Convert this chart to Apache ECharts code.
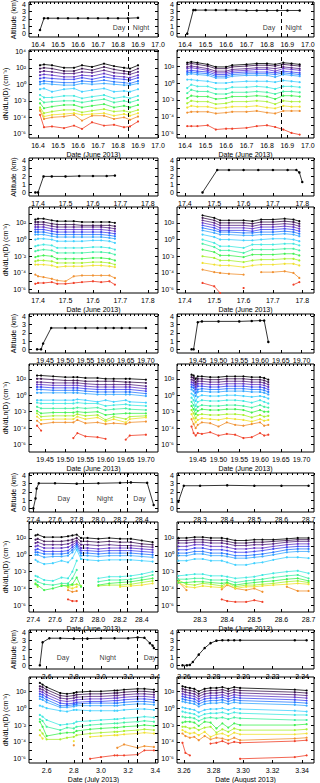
<!DOCTYPE html>
<html>
<head>
<meta charset="utf-8">
<script src="https://cdn.jsdelivr.net/npm/echarts@6/dist/echarts.min.js"></script>
<style>
html, body { margin: 0; padding: 0; background: #fff; }
#main { width: 320px; height: 783px; }
</style>
</head>
<body>
<div id="main"></div>
<script>
/*
 * size distributions + altitude, 5 flights x 2
 * values are log10(dN/dLnD)
 */
var colors = ['#000000', '#3c1850', '#5a2888', '#6438c8', '#4048f0', '#2878ff', '#38a8ff', '#40d0ff',
	'#40e8e0', '#40f0a0', '#40f050', '#a8f030', '#f0e030', '#f09030', '#f04028', '#f04028'];

// ---- row 1 : 16-17 June ----
var xt1 = [16.4, 16.5, 16.6, 16.7, 16.8, 16.9, 17.0];
var altT1L = [16.41, 16.43, 16.45, 16.50, 16.55, 16.60, 16.65, 16.70, 16.75, 16.80, 16.85, 16.90];
var alt1L = [0.5, 2.1, 2.1, 2.1, 2.1, 2.1, 2.1, 2.1, 2.1, 2.1, 2.1, 2.15];
var t1L = [16.41, 16.43, 16.47, 16.53, 16.58, 16.62, 16.67, 16.73, 16.78, 16.83, 16.86, 16.90];
var dn1L = [
	[2.3, 2.4, 2.3, 2.0, 2.0, 2.3, 2.1, 2.5, 2.2, 2.0, 1.9, 2.3],
	[1.9, 2.0, 1.9, 1.6, 1.6, 1.9, 1.7, 2.1, 1.8, 1.6, 1.5, 1.9],
	[1.5, 1.6, 1.5, 1.3, 1.3, 1.5, 1.4, 1.7, 1.4, 1.3, 1.2, 1.5],
	[1.1, 1.2, 1.1, 0.9, 0.9, 1.1, 1.0, 1.3, 1.0, 0.9, 0.8, 1.1],
	[0.7, 0.8, 0.7, 0.6, 0.6, 0.8, 0.6, 0.9, 0.7, 0.6, 0.5, 0.8],
	[0.3, 0.4, 0.3, 0.2, 0.2, 0.4, 0.3, 0.5, 0.3, 0.2, 0.1, 0.4],
	[0.0, 0.1, 0.0, -0.1, -0.1, 0.1, 0.0, 0.1, 0.0, -0.1, -0.1, 0.1],
	[-0.6, -0.5, -0.9, -0.6, -0.5, -0.9, -0.7, -0.5, -0.9, -0.8, -0.9, -0.6],
	[-1.3, -1.6, -1.6, -1.4, -1.4, -1.7, -1.5, -1.3, -1.7, -1.5, -1.7, -1.4],
	[-1.8, -2.2, -2.1, -2.0, -2.0, -2.2, -2.0, -1.8, -2.2, -2.0, -2.2, -1.9],
	[-2.3, -2.9, -2.7, -2.5, -2.5, -2.8, -2.6, -2.4, -2.8, -2.6, -2.8, -2.5],
	[-2.8, -3.5, -3.3, -3.1, -3.1, -3.4, -3.2, -3.0, -3.3, -3.2, -3.4, -3.1],
	[-3.0, -3.9, -3.7, -3.6, -3.5, -3.7, -3.6, -3.5, -3.8, -3.6, -3.8, -3.5],
	[-3.2, -4.2, -4.0, -3.9, -3.7, -4.4, -3.8, -3.8, -4.2, -4.0, -4.3, -3.9],
	[-3.7, -5.2, -5.1, -5.3, -5.0, -5.4, -4.6, -5.0, -4.9, -5.2, -5.1, -4.5]
];
var txt1L = [['Day', 16.805, 0.9], ['Night', 16.915, 0.9]];

var altT1R = [16.41, 16.44, 16.45, 16.50, 16.55, 16.60, 16.65, 16.70, 16.75, 16.80, 16.85, 16.90, 16.96];
var alt1R = [0, 3.2, 3.2, 3.2, 3.2, 3.2, 3.2, 3.15, 3.15, 3.15, 3.15, 3.15, 3.15];
var t1R = [16.41, 16.43, 16.46, 16.51, 16.55, 16.60, 16.63, 16.70, 16.75, 16.80, 16.84, 16.88, 16.92, 16.96];
var dn1R = [
	[2.4, 2.5, 2.4, 2.2, 1.9, 1.9, 2.1, 2.2, 2.3, 2.3, 2.2, 2.4, 2.3, 2.2],
	[2.2, 2.3, 2.2, 2.0, 1.7, 1.7, 1.9, 2.0, 2.1, 2.1, 2.0, 2.2, 2.1, 2.0],
	[1.9, 2.0, 1.9, 1.7, 1.4, 1.4, 1.6, 1.7, 1.8, 1.8, 1.7, 1.9, 1.8, 1.7],
	[1.7, 1.8, 1.7, 1.5, 1.2, 1.2, 1.4, 1.5, 1.6, 1.6, 1.4, 1.7, 1.6, 1.5],
	[1.4, 1.5, 1.4, 1.3, 1.0, 1.0, 1.2, 1.3, 1.3, 1.3, 1.2, 1.4, 1.3, 1.2],
	[1.2, 1.3, 1.2, 1.1, 0.8, 0.8, 1.0, 1.1, 1.1, 1.1, 1.0, 1.2, 1.1, 1.0],
	[1.0, 1.1, 1.0, 0.9, 0.6, 0.6, 0.8, 0.9, 0.9, 0.9, 0.7, 1.0, 0.9, 0.8],
	[0.4, 0.4, 0.3, 0.2, 0.0, 0.0, 0.1, 0.2, 0.2, 0.2, 0.1, 0.3, 0.2, 0.1],
	[-0.6, -0.2, -0.4, -0.4, -0.7, -0.7, -0.5, -0.5, -0.4, -0.5, -0.7, -0.4, -0.4, -0.5],
	[-1.2, -0.8, -1.0, -1.0, -1.3, -1.3, -1.1, -1.1, -1.0, -1.1, -1.3, -1.0, -1.0, -1.1],
	[-1.8, -1.5, -1.6, -1.6, -1.9, -1.8, -1.6, -1.6, -1.5, -1.6, -1.9, -1.5, -1.5, -1.6],
	[-2.4, -2.1, -2.2, -2.2, -2.5, -2.4, -2.2, -2.2, -2.1, -2.2, -2.5, -2.1, -2.2, -2.2],
	[-2.9, -2.7, -2.8, -2.8, -3.0, -2.9, -2.8, -2.8, -2.7, -2.9, -3.0, -2.7, -2.8, -2.8],
	[-3.5, -3.4, -3.4, -3.4, -3.6, -3.5, -3.4, -3.4, -3.3, -3.5, -3.6, -3.3, -3.3, -3.3],
	[-5.1, -5.1, -5.1, -5.0, -5.5, -5.4, -5.4, -5.3, -5.1, -5.0, -5.2, -5.5, -5.9, -6.1]
];
var txt1R = [['Day', 16.81, 0.9], ['Night', 16.93, 0.9]];

// ---- row 2 : 17 June ----
var xt2 = [17.4, 17.5, 17.6, 17.7, 17.8];
var altT2L = [17.39, 17.40, 17.42, 17.45, 17.50, 17.55, 17.60, 17.65, 17.68];
var alt2L = [0, 0, 2.0, 2.0, 2.0, 2.05, 2.05, 2.05, 2.1];
var t2L = [17.39, 17.40, 17.42, 17.45, 17.47, 17.50, 17.53, 17.56, 17.60, 17.63, 17.66, 17.68];
var dn2L = [
	[2.4, 2.5, 2.5, 2.3, 2.2, 2.2, 2.2, 2.1, 2.1, 2.1, 2.1, 2.0],
	[2.1, 2.1, 2.1, 1.9, 1.8, 1.8, 1.8, 1.7, 1.7, 1.7, 1.7, 1.6],
	[1.8, 1.8, 1.8, 1.6, 1.5, 1.5, 1.5, 1.5, 1.5, 1.5, 1.4, 1.3],
	[1.5, 1.5, 1.5, 1.3, 1.2, 1.2, 1.2, 1.2, 1.2, 1.2, 1.1, 1.0],
	[1.2, 1.2, 1.2, 1.0, 0.9, 0.9, 0.9, 0.9, 0.9, 0.9, 0.8, 0.7],
	[0.9, 0.9, 0.9, 0.7, 0.6, 0.6, 0.6, 0.6, 0.6, 0.6, 0.5, 0.4],
	[0.6, 0.6, 0.6, 0.4, 0.3, 0.3, 0.3, 0.3, 0.3, 0.3, 0.2, 0.1],
	[0.0, 0.1, 0.1, 0.0, -0.2, -0.2, -0.2, -0.2, -0.1, -0.1, -0.2, -0.4],
	[-0.8, -0.7, -0.6, -0.7, -1.0, -1.0, -1.0, -1.0, -0.9, -0.9, -1.0, -1.2],
	[-1.4, -1.3, -1.2, -1.3, -1.6, -1.6, -1.6, -1.6, -1.5, -1.5, -1.6, -1.8],
	[-2.1, -2.0, -1.9, -2.0, -2.3, -2.3, -2.3, -2.3, -2.2, -2.2, -2.3, -2.5],
	[-2.6, -2.5, -2.5, -2.6, -2.8, -2.8, -2.8, -2.8, -2.7, -2.7, -2.8, -3.0],
	[-3.0, -3.0, -3.0, -3.1, -3.3, -3.2, -3.2, -3.2, -3.1, -3.1, -3.2, -3.3],
	[-4.2, -4.4, -4.5, -4.7, -4.9, -5.0, -4.4, -4.3, -4.3, -4.3, -4.3, -4.6],
	[-5.3, -5.2, -5.2, -5.1, -5.3, -5.3, -5.2, -5.1, -5.0, -5.1, -5.0, -5.4]
];

var altT2R = [17.46, 17.51, 17.55, 17.60, 17.65, 17.70, 17.75, 17.78, 17.79, 17.80];
var alt2R = [0, 2.8, 2.8, 2.8, 2.8, 2.8, 2.8, 2.8, 2.5, 1.3];
var t2R = [17.46, 17.50, 17.52, 17.55, 17.60, 17.63, 17.66, 17.70, 17.74, 17.77, 17.79];
var dn2R = [
	[2.9, 2.6, 2.3, 2.3, 2.3, 2.2, 2.4, 2.4, 2.5, 2.4, 2.2],
	[2.6, 2.3, 2.0, 2.0, 2.0, 1.9, 2.1, 2.1, 2.2, 2.1, 1.9],
	[2.3, 2.0, 1.7, 1.7, 1.7, 1.6, 1.8, 1.8, 1.9, 1.8, 1.6],
	[2.0, 1.7, 1.4, 1.4, 1.4, 1.3, 1.5, 1.5, 1.6, 1.5, 1.3],
	[1.7, 1.4, 1.1, 1.1, 1.1, 1.0, 1.2, 1.2, 1.3, 1.2, 1.0],
	[1.4, 1.1, 0.9, 0.9, 0.8, 0.8, 0.9, 0.9, 1.0, 0.9, 0.7],
	[1.1, 0.8, 0.6, 0.6, 0.5, 0.5, 0.6, 0.6, 0.7, 0.6, 0.4],
	[0.6, 0.3, 0.0, 0.0, -0.1, -0.1, 0.0, 0.1, 0.1, 0.0, -0.2],
	[0.0, -0.4, -0.8, -0.8, -1.0, -0.6, -0.6, -0.6, -0.5, -0.5, -0.7],
	[-0.5, -0.9, -1.3, -1.3, -1.6, -1.2, -1.2, -1.2, -1.1, -1.1, -1.3],
	[-1.2, -1.5, -1.9, -1.9, -2.1, -1.8, -1.8, -1.8, -1.7, -1.7, -1.9],
	[-2.0, -2.2, -2.5, -2.5, -2.7, -2.5, -2.4, -2.4, -2.3, -2.3, -2.5],
	[-2.8, -3.0, -3.1, -3.1, -3.3, -3.1, -3.0, -3.0, -2.9, -2.9, -3.1],
	[-3.6, -3.9, -4.0, -4.1, -4.2, null, -3.9, -3.9, -3.8, -4.0, -4.6],
	[-5.2, -5.6, -6.4, null, -5.8, null, null, null, null, -5.4, -5.1]
];

// ---- row 3 : 19 June ----
var xt3 = [19.45, 19.50, 19.55, 19.60, 19.65, 19.70];
var altT3L = [19.43, 19.44, 19.445, 19.465, 19.50, 19.525, 19.55, 19.58, 19.60, 19.62, 19.64, 19.66, 19.70];
var alt3L = [0, 0, 0.7, 2.6, 2.6, 2.6, 2.6, 2.6, 2.6, 2.6, 2.6, 2.6, 2.6];
var t3L = [19.43, 19.44, 19.47, 19.50, 19.52, 19.53, 19.55, 19.58, 19.60, 19.62, 19.65, 19.66, 19.70];
var dn3L = [
	[2.4, 2.4, 2.3, 2.2, 2.2, 2.2, 2.1, 2.1, 2.0, 2.0, 2.0, 2.0, 1.9],
	[2.0, 2.0, 1.9, 1.8, 1.8, 1.8, 1.7, 1.7, 1.7, 1.7, 1.6, 1.6, 1.5],
	[1.6, 1.6, 1.5, 1.5, 1.5, 1.5, 1.4, 1.3, 1.3, 1.3, 1.3, 1.3, 1.1],
	[1.3, 1.3, 1.2, 1.2, 1.2, 1.2, 1.1, 1.0, 1.0, 1.0, 1.0, 1.0, 0.8],
	[1.0, 1.0, 0.9, 0.9, 0.9, 0.9, 0.8, 0.7, 0.7, 0.7, 0.7, 0.7, 0.5],
	[0.7, 0.7, 0.6, 0.6, 0.6, 0.6, 0.5, 0.4, 0.4, 0.4, 0.4, 0.4, 0.2],
	[0.3, 0.3, 0.3, 0.3, 0.3, 0.3, 0.2, 0.1, 0.1, 0.1, 0.1, 0.1, -0.1],
	[-0.6, -0.6, -0.6, -0.6, -0.6, -0.5, -0.6, -0.8, -0.6, -0.8, -0.6, -0.8, -0.9],
	[-0.9, -1.0, -1.0, -1.0, -1.0, -0.9, -1.0, -1.0, -1.3, -1.2, -1.1, -1.2, -1.3],
	[-1.4, -1.6, -1.6, -1.6, -1.6, -1.5, -1.6, -1.5, -1.8, -1.7, -1.6, -1.7, -1.8],
	[-1.9, -2.2, -2.1, -2.1, -2.1, -2.0, -2.1, -2.0, -2.4, -2.3, -2.2, -2.2, -2.2],
	[-2.2, -2.6, -2.5, -2.5, -2.5, -2.3, -2.5, -2.4, -3.0, -2.6, -2.9, -2.6, -2.5],
	[-2.6, -3.0, -2.9, -2.9, -2.9, -2.6, -2.9, -2.7, -3.2, -2.9, -3.3, -2.9, -2.7],
	[-3.1, -3.5, -3.3, -3.3, -3.3, -3.0, -3.4, -3.3, -3.5, -3.4, -3.5, -3.3, -3.2],
	[-3.7, -4.3, null, null, -5.2, -4.6, -5.0, -5.1, -5.3, null, -5.4, -4.9, -4.8]
];

var altT3R = [19.435, 19.44, 19.45, 19.46, 19.50, 19.55, 19.58, 19.60, 19.61, 19.62];
var alt3R = [0, 0, 3.3, 3.4, 3.4, 3.4, 3.45, 3.5, 3.5, 0.9];
var t3R = [19.435, 19.44, 19.445, 19.45, 19.46, 19.48, 19.50, 19.52, 19.54, 19.56, 19.58, 19.60, 19.61, 19.62];
var dn3R = [
	[2.5, 2.4, 2.0, 2.3, 2.3, 2.2, 2.2, 2.3, 2.3, 2.3, 2.2, 2.2, 2.1, 1.9],
	[2.2, 2.1, 1.6, 2.0, 2.0, 1.9, 1.9, 2.0, 2.0, 2.0, 1.9, 1.9, 1.8, 1.6],
	[1.9, 1.8, 1.3, 1.7, 1.7, 1.6, 1.6, 1.7, 1.7, 1.7, 1.6, 1.6, 1.5, 1.3],
	[1.6, 1.5, 1.0, 1.4, 1.4, 1.3, 1.3, 1.4, 1.4, 1.4, 1.3, 1.3, 1.2, 1.0],
	[1.3, 1.2, 0.7, 1.1, 1.1, 1.0, 1.0, 1.1, 1.1, 1.1, 1.0, 1.0, 0.9, 0.7],
	[1.0, 0.9, 0.3, 0.7, 0.8, 0.7, 0.7, 0.8, 0.8, 0.8, 0.7, 0.7, 0.6, 0.4],
	[0.7, 0.5, -0.1, 0.4, 0.5, 0.4, 0.4, 0.5, 0.5, 0.5, 0.4, 0.4, 0.3, 0.1],
	[0.2, 0.0, -0.7, -0.2, 0.0, -0.1, -0.1, 0.0, 0.0, -0.1, -0.2, -0.1, -0.2, -0.4],
	[-0.3, -0.6, -1.3, -0.8, -0.6, -0.7, -0.7, -0.6, -0.6, -0.7, -0.9, -0.6, -0.8, -1.0],
	[-0.8, -1.2, -1.8, -1.4, -1.2, -1.3, -1.3, -1.2, -1.2, -1.3, -1.5, -1.2, -1.4, -1.5],
	[-1.3, -1.7, -2.3, -1.9, -1.7, -1.8, -1.8, -1.7, -1.7, -1.8, -2.1, -1.8, -2.0, -2.0],
	[-1.8, -2.2, -2.8, -2.4, -2.3, -2.4, -2.4, -2.3, -2.3, -2.4, -2.7, -2.4, -2.6, -2.5],
	[-2.3, -2.8, -3.3, -3.0, -2.8, -2.9, -3.0, -2.8, -2.9, -3.0, -3.2, -2.9, -3.1, -3.0],
	[-2.9, -3.5, -4.0, -3.6, -3.3, -3.4, -3.8, -3.3, -3.6, -3.7, -3.5, -3.3, -3.7, -3.6],
	[-3.8, -4.6, -4.9, -4.6, -4.7, -4.5, -4.9, -4.7, -4.8, -5.2, -5.1, -4.6, -4.9, -4.8]
];

// ---- row 4 : 27-28 June ----
var xt4L = [27.4, 27.6, 27.8, 28.0, 28.2, 28.4];
var altT4L = [27.40, 27.42, 27.43, 27.45, 27.60, 27.80, 28.00, 28.20, 28.30, 28.45, 28.51];
var alt4L = [0, 1.2, 2.4, 3.05, 3.05, 3.0, 3.05, 3.1, 3.15, 3.1, 0.4];
var t4L = [27.42, 27.44, 27.50, 27.58, 27.66, 27.72, 27.76, 27.80, 27.84, 27.90, 28.00, 28.10, 28.20, 28.30, 28.40, 28.50];
var dn4L = [
	[2.3, 2.4, 2.1, 2.1, 2.1, 2.2, 2.3, 2.4, 2.0, 2.0, 1.9, 2.0, 1.9, 1.9, 1.7, 1.5],
	[1.8, 1.9, 1.6, 1.6, 1.6, 1.7, 1.8, 2.0, 1.6, 1.6, 1.5, 1.6, 1.5, 1.5, 1.3, 1.2],
	[1.4, 1.5, 1.2, 1.2, 1.2, 1.3, 1.5, 1.7, 1.2, 1.2, 1.1, 1.2, 1.1, 1.1, 1.0, 0.9],
	[1.0, 1.1, 0.8, 0.8, 0.8, 0.9, 1.2, 1.5, 0.8, 0.8, 0.7, 0.8, 0.8, 0.8, 0.7, 0.6],
	[0.6, 0.7, 0.4, 0.4, 0.4, 0.5, 0.9, 1.3, 0.5, 0.5, 0.4, 0.5, 0.5, 0.5, 0.4, 0.3],
	[0.3, 0.3, 0.1, 0.1, 0.1, 0.2, 0.6, 1.1, 0.2, 0.2, 0.1, 0.2, 0.2, 0.2, 0.1, 0.0],
	[0.0, 0.0, -0.3, -0.2, -0.2, -0.1, 0.3, 0.9, -0.1, -0.1, -0.2, -0.1, -0.1, -0.1, -0.2, -0.3],
	[-0.6, -0.8, -1.1, -1.0, -0.7, -0.9, -0.4, 0.6, -0.5, -0.6, -0.7, -0.6, -0.6, -0.6, -0.7, -0.8],
	[-2.5, -2.6, -3.0, -3.1, -2.7, -2.8, -2.0, -0.7, null, null, -2.8, -2.6, -2.6, -2.5, -2.3, -2.0],
	[-3.0, -3.2, -3.5, -3.6, -3.4, -3.4, -2.8, -1.8, null, null, -3.2, -3.0, -3.0, -2.9, -2.7, -2.4],
	[-3.5, -3.6, -4.2, -4.0, -3.7, -3.6, -3.5, -2.7, -3.8, null, -3.6, -3.4, -3.3, -3.2, -3.0, -2.8],
	[-3.4, -3.8, null, null, -3.6, -3.8, -3.6, -3.5, -3.7, null, -3.7, -3.6, -3.6, -3.5, -3.3, -3.1],
	[null, null, null, null, null, -3.9, -4.0, -3.8, null, null, null, null, -3.8, -3.7, -3.6, -3.4],
	[null, null, null, null, null, -4.2, -4.4, -4.3, null, null, null, null, null, null, null, null],
	[null, null, null, null, null, -5.3, -5.5, -5.5, null, null, null, null, null, null, null, null]
];
var txt4L = [['Day', 27.68, 1.2], ['Night', 28.06, 1.2], ['Day', 28.38, 1.2]];

var xt4R = [28.3, 28.4, 28.5, 28.6, 28.7];
var altT4R = [28.22, 28.24, 28.30, 28.40, 28.50, 28.60, 28.70];
var alt4R = [0.8, 2.75, 2.75, 2.8, 2.75, 2.75, 2.75];
var t4R = [28.22, 28.25, 28.28, 28.31, 28.34, 28.38, 28.40, 28.43, 28.47, 28.50, 28.53, 28.57, 28.62, 28.66, 28.70];
var dn4R = [
	[2.0, 2.0, 2.1, 2.1, 2.0, 2.0, 1.9, 1.7, 1.7, 1.8, 1.8, 1.8, 1.9, 2.0, 2.0],
	[1.7, 1.7, 1.8, 1.8, 1.7, 1.7, 1.6, 1.4, 1.4, 1.5, 1.5, 1.6, 1.7, 1.8, 1.8],
	[1.4, 1.4, 1.5, 1.5, 1.4, 1.4, 1.3, 1.1, 1.1, 1.2, 1.2, 1.3, 1.5, 1.6, 1.6],
	[1.0, 1.0, 1.2, 1.2, 1.0, 1.0, 0.9, 0.7, 0.7, 0.8, 0.8, 1.0, 1.2, 1.3, 1.3],
	[0.6, 0.6, 0.8, 0.8, 0.6, 0.6, 0.5, 0.3, 0.3, 0.4, 0.5, 0.7, 0.9, 1.0, 1.0],
	[0.2, 0.2, 0.4, 0.4, 0.2, 0.2, 0.1, -0.1, -0.1, 0.0, 0.1, 0.3, 0.6, 0.7, 0.7],
	[-0.1, -0.1, 0.1, 0.1, -0.1, -0.1, -0.2, -0.4, -0.4, -0.3, -0.2, 0.0, 0.3, 0.4, 0.4],
	[-0.7, -0.7, -0.5, -0.5, -0.7, -0.7, -0.9, -1.2, -1.2, -1.0, -0.9, -0.6, -0.3, -0.3, -0.4],
	[-2.5, -2.4, -2.3, -2.3, -2.5, -2.5, -2.6, -2.8, -2.7, -2.6, -2.4, -2.2, -2.0, -1.9, -2.2],
	[-2.9, -2.9, -2.8, -2.8, -3.0, -3.0, -3.0, -3.3, -3.1, -3.0, -2.9, -2.7, -2.5, -2.4, -2.8],
	[-3.3, -3.3, -3.2, -3.2, -3.3, -3.4, -3.3, -3.6, -3.4, -3.3, -3.2, -3.1, -2.9, -2.8, -3.1],
	[-3.0, -3.5, -3.6, -3.4, -3.5, -3.7, -3.3, -3.8, -3.6, -3.6, -3.5, -3.4, -3.2, -3.1, -3.3],
	[-3.3, -3.8, -3.9, -3.7, -3.8, -3.9, -3.5, -4.0, -3.8, -3.8, -3.7, -3.6, -3.5, -3.4, -3.5],
	[-3.2, -4.2, null, null, null, -4.1, -3.6, -4.0, -4.2, -4.0, -4.4, null, -3.8, -4.3, -4.3],
	[null, null, null, null, null, -5.3, -5.5, -5.6, -5.6, -5.4, -5.6, null, null, null, null]
];

// ---- row 5 : July / August ----
var xt5L = [2.6, 2.8, 3.0, 3.2, 3.4];
var altT5L = [2.55, 2.57, 2.62, 2.70, 2.80, 2.90, 3.00, 3.10, 3.20, 3.27, 3.32, 3.36, 3.38, 3.39];
var alt5L = [0, 2.8, 3.3, 3.3, 3.25, 3.25, 3.3, 3.3, 3.3, 3.4, 3.35, 2.7, 2.4, 2.1];
var t5L = [2.55, 2.57, 2.60, 2.70, 2.75, 2.80, 2.82, 2.92, 3.00, 3.10, 3.12, 3.17, 3.27, 3.32, 3.39];
var dn5L = [
	[3.0, 2.8, 2.5, 1.8, 1.7, 1.8, 1.9, 2.0, 2.0, 2.1, 2.1, 2.2, 2.3, 2.3, 2.2],
	[2.6, 2.5, 2.2, 1.5, 1.4, 1.5, 1.6, 1.7, 1.7, 1.8, 1.8, 1.9, 2.0, 2.0, 1.9],
	[2.3, 2.2, 1.9, 1.2, 1.1, 1.2, 1.3, 1.4, 1.4, 1.5, 1.5, 1.6, 1.7, 1.7, 1.6],
	[2.0, 1.9, 1.6, 0.9, 0.8, 0.9, 1.0, 1.1, 1.1, 1.2, 1.2, 1.3, 1.4, 1.4, 1.3],
	[1.7, 1.6, 1.3, 0.6, 0.5, 0.6, 0.7, 0.8, 0.8, 0.9, 0.9, 1.0, 1.1, 1.1, 1.0],
	[1.4, 1.3, 1.0, 0.3, 0.3, 0.4, 0.5, 0.6, 0.6, 0.6, 0.6, 0.7, 0.8, 0.8, 0.7],
	[1.1, 1.0, 0.7, 0.1, 0.1, 0.2, 0.3, 0.3, 0.3, 0.3, 0.3, 0.4, 0.5, 0.5, 0.4],
	[0.3, 0.2, 0.0, -0.3, -0.4, -0.2, -0.2, -0.3, -0.3, -0.3, -0.3, -0.2, -0.1, -0.1, -0.2],
	[-0.8, -1.0, -1.4, -2.0, -1.9, -1.8, -1.6, -1.5, -1.4, -1.3, -1.3, -1.2, -1.1, -1.0, -1.1],
	[-1.3, -1.5, -2.2, -2.6, -2.3, -2.4, -2.2, -2.0, -1.9, -1.8, -1.8, -1.7, -1.6, -1.5, -1.6],
	[-1.6, -2.2, -3.3, -3.0, -2.9, -2.9, -2.7, -2.5, -2.4, -2.3, -2.3, -2.2, -2.1, -2.0, -2.1],
	[-2.6, -3.0, -3.7, -3.7, -3.5, -3.4, -3.2, -3.0, -2.9, -2.8, -2.8, -2.7, -2.6, -2.5, -2.6],
	[-3.2, -3.6, null, null, null, -3.9, null, -3.4, -3.3, -3.2, -3.2, -3.1, -3.0, -2.9, -3.0],
	[null, null, null, null, null, -4.4, null, null, null, null, -4.7, -4.3, -4.7, -4.5, -4.6],
	[null, null, null, null, null, null, null, -6.0, -5.8, -5.6, -5.6, -5.6, -5.5, -5.0, -5.0]
];
var txt5L = [['Day', 2.72, 1.0], ['Night', 3.05, 1.0], ['Day', 3.36, 1.0]];

var xt5R = [3.26, 3.28, 3.30, 3.32, 3.34];
var altT5R = [3.259, 3.262, 3.264, 3.266, 3.270, 3.274, 3.278, 3.282, 3.286, 3.290, 3.294, 3.298, 3.335, 3.343];
var alt5R = [0, 0, 0.05, 0.4, 1.3, 2.1, 2.7, 3.0, 3.05, 3.05, 3.05, 3.05, 3.05, 3.05];
var t5R = [3.259, 3.261, 3.264, 3.267, 3.270, 3.274, 3.278, 3.282, 3.286, 3.290, 3.294, 3.298, 3.335, 3.343];
var dn5R = [
	[2.6, 2.5, 2.4, 2.3, 2.0, 2.3, 2.4, 2.4, 2.5, 2.3, 2.5, 2.4, 2.2, 2.1],
	[2.3, 2.2, 2.1, 2.0, 1.7, 2.0, 2.1, 2.1, 2.2, 2.0, 2.2, 2.1, 1.9, 1.8],
	[2.0, 1.9, 1.8, 1.7, 1.4, 1.7, 1.8, 1.8, 1.9, 1.7, 1.9, 1.8, 1.6, 1.5],
	[1.7, 1.6, 1.5, 1.4, 1.1, 1.4, 1.5, 1.5, 1.6, 1.4, 1.6, 1.5, 1.3, 1.2],
	[1.4, 1.3, 1.2, 1.1, 0.8, 1.1, 1.2, 1.2, 1.3, 1.1, 1.3, 1.2, 1.0, 0.9],
	[1.1, 1.0, 0.9, 0.8, 0.5, 0.8, 0.9, 0.9, 1.0, 0.8, 1.0, 0.9, 0.7, 0.6],
	[0.8, 0.7, 0.6, 0.5, 0.2, 0.5, 0.6, 0.6, 0.7, 0.5, 0.7, 0.6, 0.4, 0.3],
	[0.1, 0.0, -0.1, -0.2, -0.5, -0.2, -0.1, -0.1, 0.0, -0.2, 0.0, -0.1, -0.3, -0.4],
	[-0.4, -0.5, -0.6, -0.7, -1.0, -0.7, -0.6, -0.6, -0.5, -0.7, -0.5, -0.6, -0.8, -0.8],
	[-1.0, -1.1, -1.1, -1.2, -1.5, -1.2, -1.1, -1.2, -1.1, -1.3, -1.1, -1.2, -1.4, -1.4],
	[-1.7, -1.6, -1.6, -1.7, -2.1, -1.6, -1.7, -2.4, -1.8, -2.3, -1.8, -2.0, -2.0, -1.9],
	[-2.2, -2.2, -2.4, -2.3, -2.6, -2.3, -2.2, -2.9, -2.5, -2.8, -2.4, -2.6, -2.6, -2.5],
	[-2.6, -2.8, -3.0, -2.9, -3.2, -2.8, -3.4, -3.1, -3.0, -3.3, -2.9, -3.1, -3.1, -3.0],
	[-3.0, -3.3, -3.5, -3.4, -3.8, -3.3, -3.7, -3.5, -3.6, -3.8, -3.5, -3.8, -3.6, -3.5],
	[-4.1, -5.3, -5.6, null, null, null, -4.2, -4.1, -3.9, -4.2, -4.0, -4.1, -3.9, -3.8],
	[null, null, null, null, null, null, null, null, null, null, null, -6.0, -5.8, -5.6]
];

// ---- layout ----
var cols = [{ left: 29, width: 129 }, { left: 177, width: 137 }];
var rows = [
	{ at: 2, ah: 35, dt: 50, dh: 88 },
	{ at: 158, ah: 38, dt: 207, dh: 86 },
	{ at: 314, ah: 39, dt: 364, dh: 88 },
	{ at: 473, ah: 39, dt: 522, dh: 90 },
	{ at: 630, ah: 39, dt: 677, dh: 86 }
];

var panels = [
	{ row: 0, col: 0, xr: [16.355, 17.0], xt: xt1, dec: 1, yr: [-6.5, 4.15], at: altT1L, av: alt1L, t: t1L, dn: dn1L, date: 'Date (June 2013)', dash: [16.85], txt: txt1L },
	{ row: 0, col: 1, xr: [16.36, 17.03], xt: xt1, dec: 1, yr: [-6.5, 3.9], at: altT1R, av: alt1R, t: t1R, dn: dn1R, date: 'Date (June 2013)', dash: [16.87], txt: txt1R },
	{ row: 1, col: 0, xr: [17.367, 17.837], xt: xt2, dec: 1, yr: [-6.4, 3.9], at: altT2L, av: alt2L, t: t2L, dn: dn2L, date: 'Date (June 2013)', dash: [], txt: [] },
	{ row: 1, col: 1, xr: [17.373, 17.84], xt: xt2, dec: 1, yr: [-6.4, 3.9], at: altT2R, av: alt2R, t: t2R, dn: dn2R, date: 'Date (June 2013)', dash: [], txt: [] },
	{ row: 2, col: 0, xr: [19.41, 19.73], xt: xt3, dec: 2, yr: [-6.9, 3.8], at: altT3L, av: alt3L, t: t3L, dn: dn3L, date: 'Date (June 2013)', dash: [], txt: [] },
	{ row: 2, col: 1, xr: [19.40, 19.73], xt: xt3, dec: 2, yr: [-6.9, 3.8], at: altT3R, av: alt3R, t: t3R, dn: dn3R, date: 'Date (June 2013)', dash: [], txt: [] },
	{ row: 3, col: 0, xr: [27.36, 28.55], xt: xt4L, dec: 1, yr: [-6.8, 3.9], at: altT4L, av: alt4L, t: t4L, dn: dn4L, date: 'Date (June 2013)', dash: [27.86, 28.27], txt: txt4L },
	{ row: 3, col: 1, xr: [28.215, 28.72], xt: xt4R, dec: 1, yr: [-6.8, 3.9], at: altT4R, av: alt4R, t: t4R, dn: dn4R, date: 'Date (June 2013)', dash: [], txt: [] },
	{ row: 4, col: 0, xr: [2.47, 3.42], xt: xt5L, dec: 1, yr: [-6.5, 3.7], at: altT5L, av: alt5L, t: t5L, dn: dn5L, date: 'Date (July 2013)', dash: [2.86, 3.27], txt: txt5L },
	{ row: 4, col: 1, xr: [3.2553, 3.348], xt: xt5R, dec: 2, yr: [-6.5, 3.7], at: altT5R, av: alt5R, t: t5R, dn: dn5R, date: 'Date (August 2013)', dash: [], txt: [] }
];

var FONT = 'Liberation Sans';
var SUP = { '-': '\u207b', '0': '\u2070', '1': '\u00b9', '2': '\u00b2', '3': '\u00b3', '4': '\u2074', '5': '\u2075', '6': '\u2076' };
function supText(n) {
	return String(n).split('').map(function (c) { return SUP[c]; }).join('');
}
function within(arr, lo, hi) {
	return arr.filter(function (v) { return v >= lo - 1e-9 && v <= hi + 1e-9; });
}
function minorTicks(lo, hi, step) {
	var out = [];
	var v = Math.ceil(lo / step - 1e-6) * step;
	for (; v <= hi + 1e-9; v += step) out.push(+v.toFixed(5));
	return out;
}
function pairs(t, v) {
	return t.map(function (x, i) { return [x, v[i] == null ? '-' : v[i]]; });
}

var grids = [], xAxes = [], yAxes = [], series = [];

function addGrid(left, top, width, height, xr, xt, dec, xName, yr, yMajor, yMinor, yFmt, yName, yGap) {
	var gi = grids.length;
	grids.push({
		left: left, top: top, width: width, height: height, show: true,
		borderColor: '#000', borderWidth: 1, backgroundColor: 'transparent',
		containLabel: false, outerBoundsMode: 'none'
	});
	var step = (xt[1] - xt[0]) / 5;
	var xLab = within(xt, xr[0], xr[1]);
	xAxes.push({
		gridIndex: gi, type: 'value', min: xr[0], max: xr[1], position: 'bottom',
		axisLine: { show: false, onZero: false },
		axisTick: { show: true, inside: true, length: 3, customValues: xLab, lineStyle: { color: '#000', width: 1 } },
		axisLabel: {
			customValues: xLab, fontSize: 7, color: '#000', margin: 4, fontFamily: FONT,
			formatter: function (v) { return v.toFixed(dec); }
		},
		splitLine: { show: false },
		name: xName, nameLocation: 'middle', nameGap: 13,
		nameTextStyle: { fontSize: 7, color: '#000', fontFamily: FONT }
	});
	xAxes.push({
		gridIndex: gi, type: 'value', min: xr[0], max: xr[1], position: 'top',
		axisLine: { show: false, onZero: false },
		axisTick: { show: true, inside: true, length: 2, customValues: minorTicks(xr[0], xr[1], step), lineStyle: { color: '#000' } },
		axisLabel: { show: false }, splitLine: { show: false }
	});
	yAxes.push({
		gridIndex: gi, type: 'value', min: yr[0], max: yr[1], position: 'left',
		axisLine: { show: false, onZero: false },
		axisTick: { show: true, inside: true, length: 3, customValues: yMinor, lineStyle: { color: '#000' } },
		axisLabel: { customValues: yMajor, fontSize: 7, color: '#000', margin: 3, fontFamily: FONT, formatter: yFmt },
		splitLine: { show: false },
		name: yName, nameLocation: 'middle', nameGap: yGap, nameRotate: 90,
		nameTextStyle: { fontSize: 7, color: '#000', fontFamily: FONT }
	});
	yAxes.push({
		gridIndex: gi, type: 'value', min: yr[0], max: yr[1], position: 'right',
		axisLine: { show: false, onZero: false },
		axisTick: { show: true, inside: true, length: 3, customValues: yMinor, lineStyle: { color: '#000' } },
		axisLabel: { show: false }, splitLine: { show: false }
	});
	return gi;
}

function dashLine(xs) {
	return {
		silent: true, symbol: ['none', 'none'], label: { show: false },
		lineStyle: { type: [4, 3], color: '#000', width: 1 },
		data: xs.map(function (x) { return { xAxis: x }; })
	};
}

panels.forEach(function (p) {
	var c = cols[p.col], r = rows[p.row];
	var isLeft = p.col === 0;

	// altitude panel
	var ga = addGrid(c.left, r.at, c.width, r.ah, p.xr, p.xt, p.dec, '',
		[-0.45, 4.3], [0, 1, 2, 3, 4], [0, 1, 2, 3, 4],
		function (v) { return String(v); },
		isLeft ? 'Altitude (km)' : '', 12);
	series.push({
		type: 'line', xAxisIndex: 2 * ga, yAxisIndex: 2 * ga,
		data: pairs(p.at, p.av), color: '#000',
		lineStyle: { width: 0.8, color: '#000' },
		symbol: 'circle', symbolSize: 2.5, itemStyle: { color: '#000' },
		markLine: p.dash.length ? dashLine(p.dash) : undefined
	});
	if (p.txt.length) {
		series.push({
			type: 'scatter', xAxisIndex: 2 * ga, yAxisIndex: 2 * ga, symbolSize: 0,
			data: p.txt.map(function (d) { return [d[1], d[2], d[0]]; }),
			label: {
				show: true, position: 'inside', fontSize: 7, color: '#000', fontFamily: FONT,
				formatter: function (q) { return q.data[2]; }
			}
		});
	}

	// size distribution panel
	var decs = [-6, -5, -4, -3, -2, -1, 0, 1, 2, 3, 4];
	var gd = addGrid(c.left, r.dt, c.width, r.dh, p.xr, p.xt, p.dec, p.date,
		p.yr, within([-6, -4, -2, 0, 2, 4], p.yr[0], p.yr[1]), within(decs, p.yr[0], p.yr[1]),
		function (v) { return '10' + supText(Math.round(v)); },
		isLeft ? 'dN/dLn(D) (cm\u207b\u00b3)' : '', 18);
	for (var j = p.dn.length - 1; j >= 0; j--) {
		series.push({
			type: 'line', xAxisIndex: 2 * gd, yAxisIndex: 2 * gd,
			data: pairs(p.t, p.dn[j]), color: colors[j],
			lineStyle: { width: 0.8, color: colors[j] },
			symbol: 'circle', symbolSize: 2.2, itemStyle: { color: colors[j] },
			markLine: (j === 0 && p.dash.length) ? dashLine(p.dash) : undefined
		});
	}
});

var chart = echarts.init(document.getElementById('main'), null, { renderer: 'svg' });
chart.setOption({
	animation: false,
	backgroundColor: '#fff',
	grid: grids,
	xAxis: xAxes,
	yAxis: yAxes,
	series: series
});
</script>
</body>
</html>
